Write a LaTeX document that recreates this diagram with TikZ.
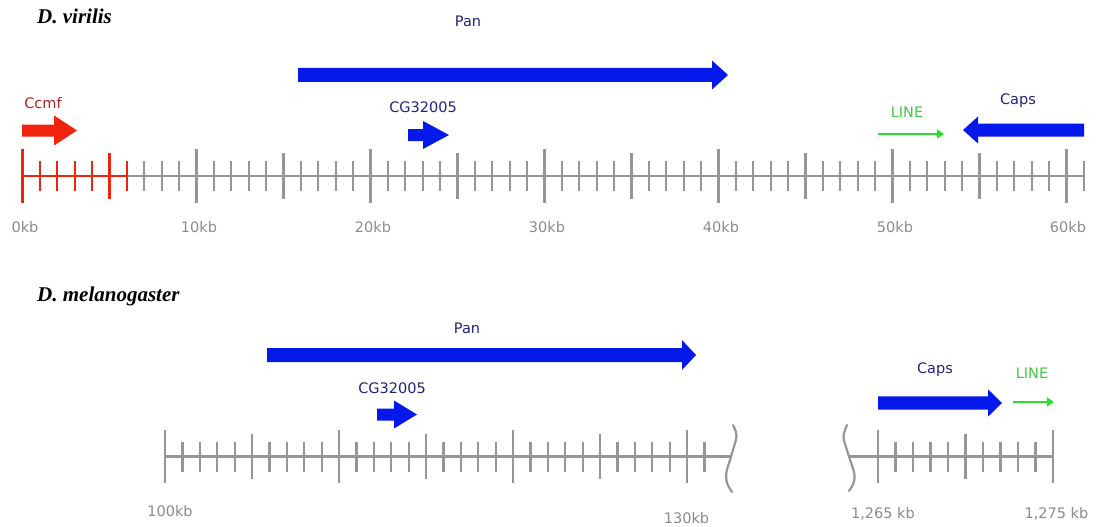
\documentclass[tikz,border=0pt]{standalone}
\usepackage{fontspec}
\setmainfont{DejaVu Sans}
\newfontfamily\titlefont{Liberation Serif}
\usetikzlibrary{arrows.meta}
\definecolor{geneblue}{RGB}{5,25,235}
\definecolor{labelblue}{RGB}{35,35,125}
\definecolor{genered}{RGB}{240,35,15}
\definecolor{labelred}{RGB}{175,35,35}
\definecolor{linegreen}{RGB}{40,225,40}
\definecolor{labelgreen}{RGB}{70,200,70}
\definecolor{axisgray}{RGB}{150,150,150}
\definecolor{textgray}{RGB}{140,140,140}
\newcommand\genearrow[7]{\fill[#7] (#1,#4-#5) -- (#2,#4-#5) -- (#2,#4-#6) -- (#3,#4) -- (#2,#4+#6) -- (#2,#4+#5) -- (#1,#4+#5) -- cycle;}
\tikzset{
  titlestyle/.style={font=\titlefont\bfseries\itshape\fontsize{21}{24}\selectfont, anchor=west, inner sep=0pt},
  lab/.style={font=\fontsize{14.5}{16}\selectfont, anchor=base, inner sep=0pt},
  axlab/.style={font=\fontsize{14.5}{16}\selectfont, anchor=base, inner sep=0pt, text=textgray},
  axisline/.style={line width=2.2pt, axisgray},
  redline/.style={line width=2.2pt, genered},
  bluegene/.style={fill=geneblue},
  redgene/.style={fill=genered},
  lineel/.style={line width=2pt, linegreen, -{Triangle[length=7pt,width=9pt]}},
  breakline/.style={line width=2.2pt, axisgray, line cap=round},
}
\begin{document}
\begin{tikzpicture}[x=1pt,y=-1pt]
\useasboundingbox (0,0) rectangle (1096,527);
\fill[white] (0,0) rectangle (1096,527);

% ---------- D. virilis ----------
\node[titlestyle] (tv) at (37,16) {D. virilis};

% axis
\draw[axisline] (126.9,176) -- (1083.9,176);
\draw[redline] (22.5,176) -- (126.9,176);
\foreach \k in {0,...,61}{
  \pgfmathsetmacro{\xx}{22.5+17.4*\k}
  \pgfmathsetmacro{\hh}{ifthenelse(mod(\k,10)==0,26.7,ifthenelse(mod(\k,5)==0,23,15))}
  \ifnum\k<7
    \draw[redline] (\xx,176-\hh) -- (\xx,176+\hh);
  \else
    \draw[axisline] (\xx,176-\hh) -- (\xx,176+\hh);
  \fi
}
\node[axlab] (l0) at (25,232) {0kb};
\node[axlab] (l10) at (199,232) {10kb};
\node[axlab] (l20) at (373,232) {20kb};
\node[axlab] (l30) at (547,232) {30kb};
\node[axlab] (l40) at (721,232) {40kb};
\node[axlab] (l50) at (895,232) {50kb};
\node[axlab] (l60) at (1068,232) {60kb};

% genes
\genearrow{298}{712}{728}{75}{7}{14.5}{bluegene}
\node[lab, text=labelblue] (panv) at (468,27) {Pan};

\genearrow{22}{54}{77}{130.5}{6}{15}{redgene}
\node[lab, text=labelred] (ccmf) at (43,108) {Ccmf};

\genearrow{408}{423}{449}{135}{6}{14}{bluegene}
\node[lab, text=labelblue] (cgv) at (423,113) {CG32005};

\coordinate (linevs) at (878,134);
\coordinate (linevt) at (944,134);
\draw[lineel] (linevs) -- (linevt);
\node[lab, text=labelgreen] (linev) at (907,117.5) {LINE};

\genearrow{1084}{978}{963}{130}{6.5}{13.5}{bluegene}
\node[lab, text=labelblue] (capsv) at (1018,105) {Caps};

% ---------- D. melanogaster ----------
\node[titlestyle] (tm) at (37,296) {D. melanogaster};

% left axis segment
\draw[axisline] (165,456.5) -- (731.5,456.5);
\foreach \k in {0,...,31}{
  \pgfmathsetmacro{\xx}{165+17.4*\k}
  \pgfmathsetmacro{\hh}{ifthenelse(mod(\k,10)==0,26.5,ifthenelse(mod(\k,5)==0,22.5,15))}
  \draw[axisline] (\xx,456.5-\hh) -- (\xx,456.5+\hh);
}
\draw[breakline] plot[smooth] coordinates {(733,425) (736.5,436) (731.5,455) (726.5,472) (727,483) (732,492)};

% right axis segment
\draw[axisline] (848.5,456.5) -- (1053,456.5);
\foreach \k in {0,...,10}{
  \pgfmathsetmacro{\xx}{878+17.5*\k}
  \pgfmathsetmacro{\hh}{ifthenelse(mod(\k,10)==0,26.5,ifthenelse(mod(\k,5)==0,22.5,15))}
  \draw[axisline] (\xx,456.5-\hh) -- (\xx,456.5+\hh);
}
\draw[breakline] plot[smooth] coordinates {(847,425) (843.5,437) (848.5,455) (854,472) (854,482) (849,491)};

\node[axlab] (l100) at (170,516.5) {100kb};
\node[axlab] (l130) at (686.5,523) {130kb};
\node[axlab] (l1265) at (883,518) {1,265 kb};
\node[axlab] (l1275) at (1056.5,518) {1,275 kb};

% genes
\genearrow{267}{682}{696}{355}{7}{15}{bluegene}
\node[lab, text=labelblue] (panm) at (467,333) {Pan};

\genearrow{377}{394}{417}{414.5}{6}{14}{bluegene}
\node[lab, text=labelblue] (cgm) at (392,393) {CG32005};

\genearrow{878}{988}{1002}{403}{6.7}{13.7}{bluegene}
\node[lab, text=labelblue] (capsm) at (935,373) {Caps};

\coordinate (linems) at (1013,402);
\coordinate (linemt) at (1054,402);
\draw[lineel] (linems) -- (linemt);
\node[lab, text=labelgreen] (linem) at (1032,378) {LINE};
\end{tikzpicture}
\end{document}
